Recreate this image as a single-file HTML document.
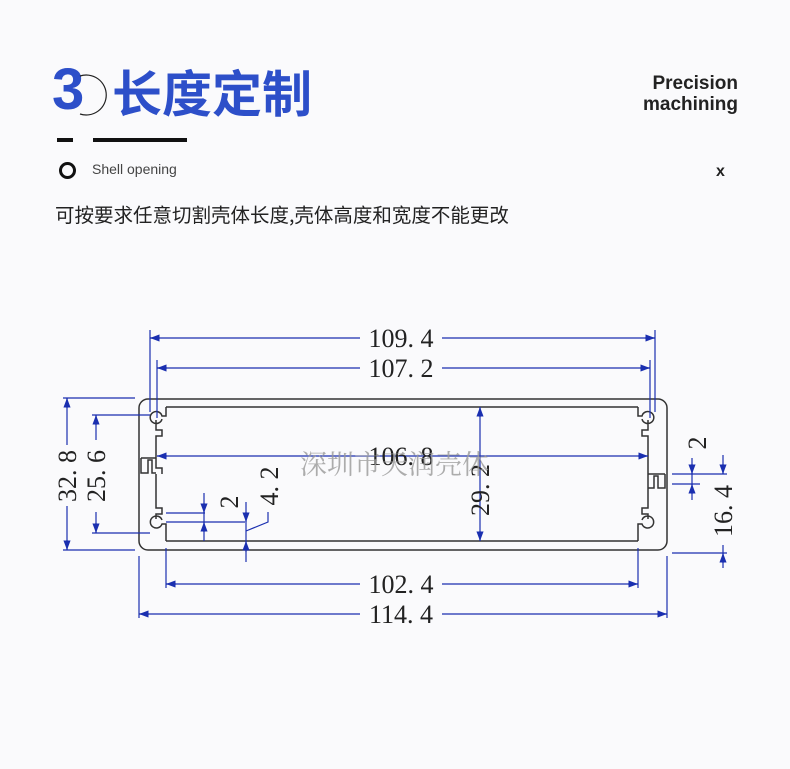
<!DOCTYPE html>
<html><head><meta charset="utf-8"><style>
html,body{margin:0;padding:0;background:#fafafc;}
body{width:790px;height:769px;position:relative;overflow:hidden;font-family:"Liberation Sans","Noto Sans CJK SC",sans-serif;}
.a{position:absolute;white-space:nowrap;}
</style></head><body>
<div class="a" style="left:52px;top:58px;font-size:58px;font-weight:bold;color:#2d4fc9;line-height:64px;">3</div>
<svg class="a" style="left:75px;top:72px" width="40" height="50"><path d="M5 4 A 20 20 0 1 1 5 42" fill="none" stroke="#222" stroke-width="1.2"/></svg>
<div class="a" style="left:112px;top:60px;font-size:50px;font-weight:bold;color:#2d4fc9;line-height:62px;font-family:'Noto Sans CJK SC',sans-serif;">长度定制</div>
<div class="a" style="left:610px;top:73px;width:128px;text-align:right;font-size:19px;font-weight:bold;color:#222;line-height:21px;">Precision<br>machining</div>
<div class="a" style="left:57px;top:138px;width:16px;height:4px;background:#111"></div>
<div class="a" style="left:93px;top:138px;width:94px;height:4px;background:#111"></div>
<div class="a" style="left:59px;top:162px;width:11px;height:11px;border:3px solid #111;border-radius:50%"></div>
<div class="a" style="left:92px;top:161px;font-size:14px;color:#444;">Shell opening</div>
<div class="a" style="left:716px;top:163px;font-size:16px;font-weight:bold;color:#222;">x</div>
<div class="a" style="left:55px;top:199px;font-size:19.5px;color:#222;font-family:'Noto Sans CJK SC',sans-serif;">可按要求任意切割壳体长度,壳体高度和宽度不能更改</div>
<svg class="a" style="left:0;top:0" width="790" height="769">
<defs><marker id="ar" markerWidth="8" markerHeight="6" refX="8" refY="3" orient="auto"><path d="M0 0L8 3L0 6z" fill="#1a2fb0"/></marker></defs>
<g fill="none" stroke="#333" stroke-width="1.5">
<rect x="139" y="399" width="528" height="151" rx="9"/>
<path d="M166 407H638 M166 541H638"/>
<path d="M166 407V416H162 A6 6 0 1 0 162 419 M156 420V430H162V436H156V458H141 M156 458V468H162 V474 M156 474V508H162V514H156V519 M162 520 A6 6 0 1 0 162 524 H166V541"/>
<path d="M638 407V416H642 A6 6 0 1 1 642 419 M648 420V430H642V436H648V474H665 M648 474V508H642V514H648V519 M642 520 A6 6 0 1 1 642 524 H638V541"/>
<path d="M141 458V473H148V460H152V473H156"/>
<path d="M665 474V488H658V476H654V488H648"/>
</g>
<g stroke="#1a2fb0" stroke-width="1.2" fill="none">
<path d="M150 330V412 M655 330V412 M157 360V418 M650 360V418"/>
<path d="M150 338H360 M442 338H655" />
<path d="M160 338H150" marker-end="url(#ar)"/><path d="M645 338H655" marker-end="url(#ar)"/>
<path d="M157 368H360 M442 368H650"/>
<path d="M167 368H157" marker-end="url(#ar)"/><path d="M640 368H650" marker-end="url(#ar)"/>
<path d="M157 456H648"/>
<path d="M167 456H157" marker-end="url(#ar)"/><path d="M638 456H648" marker-end="url(#ar)"/>
<path d="M480 407V541"/><path d="M480 417V407" marker-end="url(#ar)"/><path d="M480 531V541" marker-end="url(#ar)"/>
<path d="M139 556V618 M667 556V618 M166 548V588 M638 548V588"/>
<path d="M166 584H360 M442 584H638"/><path d="M176 584H166" marker-end="url(#ar)"/><path d="M628 584H638" marker-end="url(#ar)"/>
<path d="M139 614H360 M442 614H667"/><path d="M149 614H139" marker-end="url(#ar)"/><path d="M657 614H667" marker-end="url(#ar)"/>
<path d="M63 398H135 M63 550H135"/>
<path d="M67 398V445 M67 506V550"/><path d="M67 408V398" marker-end="url(#ar)"/><path d="M67 540V550" marker-end="url(#ar)"/>
<path d="M92 415H150 M92 533H150"/>
<path d="M96 415V440 M96 512V533"/><path d="M96 425V415" marker-end="url(#ar)"/><path d="M96 523V533" marker-end="url(#ar)"/>
<path d="M166 513H205 M166 522H245"/>
<path d="M204 493V541"/><path d="M204 503V513" marker-end="url(#ar)"/><path d="M204 532V522" marker-end="url(#ar)"/>
<path d="M246 502V562"/><path d="M246 512V522" marker-end="url(#ar)"/><path d="M246 552V541" marker-end="url(#ar)"/>
<path d="M246 531L268 522V512"/>
<path d="M672 474H727 M672 484H700 M672 553H727"/>
<path d="M692 458V500"/><path d="M692 464V474" marker-end="url(#ar)"/><path d="M692 494V484" marker-end="url(#ar)"/>
<path d="M723 455V474"/><path d="M723 464V474" marker-end="url(#ar)"/>
<path d="M723 545V568"/><path d="M723 563V553" marker-end="url(#ar)"/>
</g>
<g font-family="Liberation Serif,serif" font-size="26" fill="#222">
<text x="401" y="347" text-anchor="middle">109. 4</text>
<text x="401" y="377" text-anchor="middle">107. 2</text>
<text x="401" y="465" text-anchor="middle">106. 8</text>
<text x="401" y="593" text-anchor="middle">102. 4</text>
<text x="401" y="623" text-anchor="middle">114. 4</text>
<text transform="translate(76 476) rotate(-90)" text-anchor="middle">32. 8</text>
<text transform="translate(105 476) rotate(-90)" text-anchor="middle">25. 6</text>
<text transform="translate(489 490) rotate(-90)" text-anchor="middle">29. 2</text>
<text transform="translate(238 502) rotate(-90)" text-anchor="middle">2</text>
<text transform="translate(278 486) rotate(-90)" text-anchor="middle">4. 2</text>
<text transform="translate(706 443) rotate(-90)" text-anchor="middle">2</text>
<text transform="translate(732 511) rotate(-90)" text-anchor="middle">16. 4</text>
</g>
<text x="300" y="474" font-family="Noto Serif CJK SC,serif" font-size="27" fill="#999" opacity="0.8">深圳市天润壳体</text>
</svg>
</body></html>
